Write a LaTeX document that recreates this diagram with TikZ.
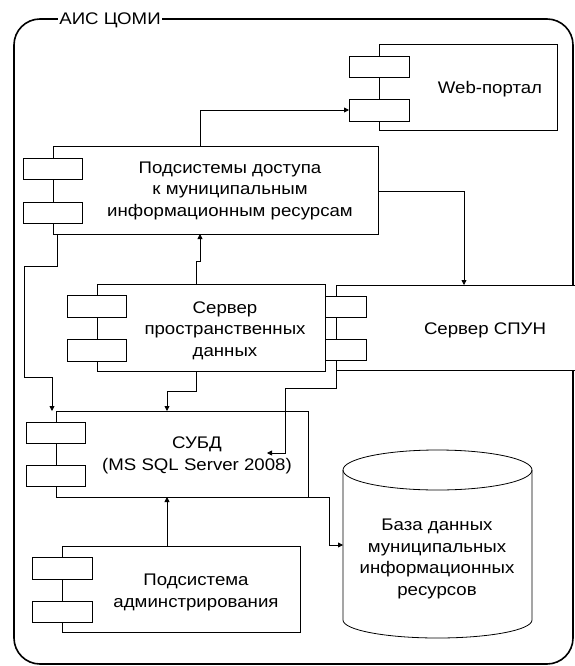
\documentclass[tikz,border=0pt]{standalone}
\usepackage{fontspec}
\setmainfont{Liberation Sans}[FakeStretch=1.11]
\usetikzlibrary{arrows.meta}
\begin{document}
\begin{tikzpicture}[x=1pt,y=-1pt,
  box/.style={draw=black, fill=white, line width=0.8pt, inner sep=0pt, outer sep=0pt, anchor=north west},
  tab/.style={box, minimum width=59pt, minimum height=21pt},
  txt/.style={align=center, font=\fontsize{16.8}{21.5}\selectfont, inner sep=0pt, anchor=base},
  conn/.style={draw, line width=0.8pt, -{Triangle[length=5pt,width=5pt]}},
  thin/.style={line width=0.8pt}
]
\useasboundingbox (0,0) rectangle (575,666);
\draw[line width=1.6pt, rounded corners=26pt] (14,19) rectangle (573,664);
\node[txt, fill=white, inner sep=1pt] (title) at (110,25) {АИС ЦОМИ};

% Web
\node[box, minimum width=178pt, minimum height=86pt] (web) at (379,44) {};
\node[tab, minimum width=60pt] (webr1) at (349,56) {};
\node[tab, minimum width=60pt, minimum height=22pt] (webr2) at (349,99) {};
\node[txt] (webt) at (490,94) {Web-портал};

% Access subsystems
\node[box, minimum width=325pt, minimum height=88pt] (sub) at (53,146) {};
\node[tab] (subr1) at (23,158) {};
\node[tab] (subr2) at (23,202) {};
\node[txt] (subt) at (230,216) {Подсистемы доступа\\к муниципальным\\информационным ресурсам};

% SPUN server
\node[anchor=north west, fill=white, inner sep=0pt, outer sep=0pt, minimum width=240pt, minimum height=85pt] (spun) at (336,285) {};
\draw[thin] (spun.north east) -- (spun.north west) -- (spun.south west) -- (spun.south east);
\node[tab, minimum width=60pt] (spunr1) at (306,296) {};
\node[tab, minimum width=60pt] (spunr2) at (306,339) {};
\node[txt] (spunt) at (485,334) {Сервер СПУН};

% Spatial data server
\node[box, minimum width=228pt, minimum height=87pt] (srv) at (97,284) {};
\node[tab, minimum height=22pt] (srvr1) at (67,295) {};
\node[tab, minimum height=22pt] (srvr2) at (67,339) {};
\node[txt] (srvt) at (225,356) {Сервер\\пространственных\\данных};

% DBMS
\node[box, minimum width=252pt, minimum height=86pt] (dbms) at (56,411) {};
\node[tab] (dbmsr1) at (26,422) {};
\node[tab] (dbmsr2) at (26,465) {};
\node[txt] (dbmst) at (197,470) {СУБД\\(MS SQL Server 2008)};

% Admin subsystem
\node[box, minimum width=238pt, minimum height=86pt] (adm) at (62,546) {};
\node[tab, minimum width=60pt, minimum height=22pt] (admr1) at (32,557) {};
\node[tab, minimum width=60pt] (admr2) at (32,601) {};
\node[txt] (admt) at (196,607) {Подсистема\\админстрирования};

% Database cylinder
\node[anchor=north west, inner sep=0pt, outer sep=0pt, minimum width=189pt, minimum height=188pt] (db) at (343,450) {};
\draw[thin, fill=white] ([yshift=-20pt]db.north west) -- ([yshift=-170pt]db.north west)
  arc[start angle=180, end angle=360, x radius=94.5pt, y radius=18pt] -- ([yshift=-20pt]db.north east);
\draw[thin] ([yshift=-20pt]db.north) ellipse [x radius=94.5pt, y radius=20pt];
\node[txt] (dbt) at (437,595) {База данных\\муниципальных\\информационных\\ресурсов};

% Connectors
\draw[conn] ([xshift=147pt]sub.north west) |- (webr2.west);
\draw[conn] ([yshift=-45pt]sub.north east) -| ([xshift=128pt]spun.north west);
\draw[conn] ([xshift=99pt]srv.north west) -- ++(0,-23) -| ([xshift=147pt]sub.south west);
\draw[conn] ([xshift=4pt]sub.south west) -- ++(0,32) -- ++(-33,0) -- ++(0,111) -- ++(28,0) -- ([xshift=-4pt]dbms.north west);
\draw[conn] ([xshift=99pt]srv.south west) -- ++(0,20) -| ([xshift=111pt]dbms.north west);
\draw[conn] (spun.south west) -- ++(0,18) -- ++(-51,0) -- ++(0,65) -- ([xshift=211pt,yshift=-42pt]dbms.north west);
\draw[conn] ([xshift=105pt]adm.north west) -- ([xshift=111pt]dbms.south west);
\draw[conn] (dbms.south east) -- ++(21,0) |- ([yshift=-95pt]db.north west);
\end{tikzpicture}
\end{document}
